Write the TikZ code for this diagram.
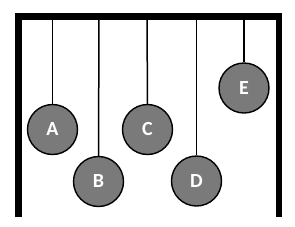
\documentclass[tikz,border=0pt]{standalone}
\usepackage{fontspec}
\setmainfont{Carlito}
\begin{document}
\begin{tikzpicture}[x=1pt,y=-1pt,
  ball/.style={circle,draw=black,line width=1.4pt,fill=black!52,minimum size=50pt,inner sep=0pt,
    text=white,font=\fontsize{20}{20}\selectfont\bfseries},
  string/.style={line width=1.5pt,black},
  frame/.style={line width=6.5pt,black,line join=miter}]
\useasboundingbox (0,0) rectangle (295,226);
\draw[frame] (18.25,217) -- (18.25,16.25) -- (278.75,16.25) -- (278.75,217);
\coordinate (pA) at (52.5,19);
\coordinate (pB) at (99,19);
\coordinate (pC) at (147,19);
\coordinate (pD) at (196.5,19);
\coordinate (pE) at (244,19);
\node[ball] (A) at (52.5,129.5) {A};
\node[ball] (B) at (98.5,181.5) {B};
\node[ball] (C) at (147.5,129.5) {C};
\node[ball] (D) at (196.5,181) {D};
\node[ball] (E) at (244,88) {E};
\draw[string] (pA) -- (A.north);
\draw[string] (pB) -- (B.north);
\draw[string] (pC) -- (C.north);
\draw[string] (pD) -- (D.north);
\draw[string] (pE) -- (E.north);
\end{tikzpicture}
\end{document}
